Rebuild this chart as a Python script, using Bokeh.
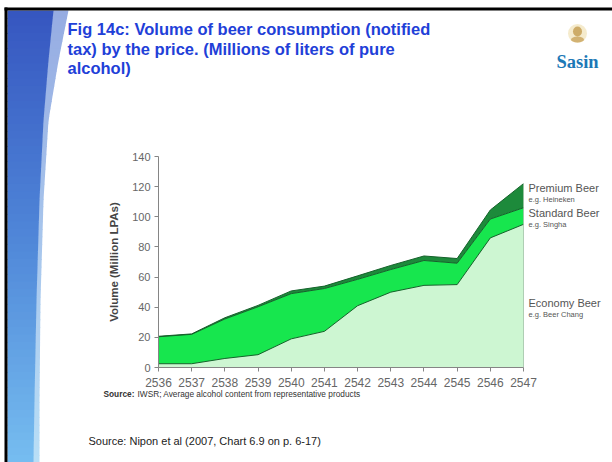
import numpy as np
from bokeh.plotting import figure
from bokeh.models import Range1d, FixedTicker, ColumnDataSource, GridBox
from bokeh.core.properties import value
from bokeh.embed import file_html
from bokeh.resources import INLINE

# Beer consumption by price segment (million litres of pure alcohol)
years = [2536, 2537, 2538, 2539, 2540, 2541, 2542, 2543, 2544, 2545, 2546, 2547]
economy = [2.5, 2.5, 6.0, 8.5, 19.0, 24.0, 41.0, 50.0, 54.5, 55.0, 86.0, 95.0]
standard = [17.9, 19.5, 26.2, 31.8, 30.0, 28.4, 17.5, 15.0, 16.5, 14.2, 12.5, 11.0]
premium = [0.3, 0.3, 0.8, 0.9, 1.8, 1.6, 2.3, 2.7, 3.0, 3.1, 6.0, 16.0]
y_ticks = [0, 20, 40, 60, 80, 100, 120, 140]

segment_names = ["Premium Beer", "Standard Beer", "Economy Beer"]
segment_examples = ["e.g. Heineken", "e.g. Singha", "e.g. Beer Chang"]

title_lines = [
    "Fig 14c: Volume of beer consumption (notified",
    "tax) by the price. (Millions of liters of pure",
    "alcohol)",
]
chart_source = "IWSR; Average alcohol content from representative products"
slide_source = "Source: Nipon et al (2007, Chart 6.9 on p. 6-17)"

FONT = "Liberation Sans"
W, H = 612, 462

# ---------------------------------------------------------------- slide layer
bg = figure(width=W, height=H, x_range=Range1d(0, W), y_range=Range1d(H, 0),
            output_backend="svg", toolbar_location=None,
            x_axis_location=None, y_axis_location=None,
            min_border_left=0, min_border_right=0, min_border_top=0, min_border_bottom=0)
bg.frame_align = False
bg.outline_line_color = None
bg.grid.visible = False
bg.background_fill_color = "white"
bg.border_fill_color = "white"


def mix(c1, c2, t):
    a = [int(c1[i:i + 2], 16) for i in (1, 3, 5)]
    b = [int(c2[i:i + 2], 16) for i in (1, 3, 5)]
    return "#" + "".join(f"{int(round(a[k] + (b[k] - a[k]) * t)):02x}" for k in range(3))


# blue band down the left edge, shaded top to bottom
edge_y = [10, 60, 120, 200, 300, 400, 462]
dark_x = [53, 48, 43, 39, 36, 34, 33]
light_x = [68, 58, 48, 43, 40, 39, 39]
n = 60
ys = np.linspace(10, H, n + 1)
band_xs, band_ys, band_c = [], [], []
for i in range(n):
    y0, y1 = ys[i], min(ys[i + 1] + 0.8, H)
    t = (0.5 * (y0 + y1) - 10) / (H - 10)
    d0, d1 = np.interp([y0, y1], edge_y, dark_x)
    l0, l1 = np.interp([y0, y1], edge_y, light_x)
    band_xs.append([d0 - 0.5, l0, l1, d1 - 0.5])
    band_ys.append([y0, y0, y1, y1])
    band_c.append(mix("#96ace2", "#b8def6", t))
    band_xs.append([7, d0, d1, 7])
    band_ys.append([y0, y0, y1, y1])
    band_c.append(mix("#3656c0", "#4f86d8", t * 2) if t < 0.5
                  else mix("#4f86d8", "#76bdf0", t * 2 - 1))
bg.patches(xs=band_xs, ys=band_ys, fill_color=band_c, line_color=None)

# black frame lines at the top and left
bg.quad(left=[4, 4], right=[W, 7], top=[7, 7], bottom=[10, H],
        fill_color="black", line_color=None)

# title
bg.text(x=[67] * 3, y=[28.5 + 19.5 * i for i in range(3)], text=title_lines,
        text_font=value(FONT), text_font_style="bold", text_font_size="16.5px",
        text_color="#1f40d8", text_baseline="alphabetic")

# logo
bg.ellipse(x=[577], y=[33], width=[19], height=[19], fill_color="#f2e6c0",
           fill_alpha=0.8, line_color=None)
bg.ellipse(x=[577], y=[31], width=[9], height=[10], fill_color="#c9a45c",
           fill_alpha=0.9, line_color=None)
bg.ellipse(x=[577], y=[39], width=[13], height=[6], fill_color="#c9a45c",
           fill_alpha=0.8, line_color=None)
bg.text(x=[577], y=[61], text=["Sasin"], text_font=value("Liberation Serif"),
        text_font_style="bold", text_font_size="18.5px", text_color="#1c78b6",
        text_align="center", text_baseline="alphabetic")

# segment labels to the right of the chart
name_y = [187, 212, 302]
bg.text(x=[528] * 3, y=name_y, text=segment_names, text_font=value(FONT),
        text_font_size="11px", text_color="#555555", text_baseline="middle")
bg.text(x=[528] * 3, y=[v + 11.5 for v in name_y], text=segment_examples,
        text_font=value(FONT), text_font_size="7.5px", text_color="#555555",
        text_baseline="middle")

# sources
bg.text(x=[103], y=[393], text=["Source:"], text_font=value(FONT), text_font_style="bold",
        text_font_size="8.3px", text_color="#333333", text_baseline="middle")
bg.text(x=[137], y=[393], text=[chart_source], text_font=value(FONT),
        text_font_size="8.3px", text_color="#333333", text_baseline="middle")
bg.text(x=[88], y=[440], text=[slide_source], text_font=value(FONT),
        text_font_size="11px", text_color="#222222", text_baseline="middle")

# ---------------------------------------------------------------- chart layer
econ_top = np.array(economy)
std_top = econ_top + np.array(standard)
total = std_top + np.array(premium)
src = ColumnDataSource(dict(x=years, zero=[0] * len(years), econ=econ_top,
                            std=std_top, total=total))

p = figure(width=W, height=H, x_range=Range1d(2536, 2547), y_range=Range1d(0, 140),
           output_backend="svg", toolbar_location=None,
           min_border_left=158, min_border_right=89, min_border_top=156, min_border_bottom=95)
p.frame_align = False
p.outline_line_color = None
p.grid.visible = False
p.background_fill_color = None
p.border_fill_color = None

# stacked areas
p.varea(x="x", y1="zero", y2="econ", source=src, fill_color="#cdf6d2")
p.varea(x="x", y1="econ", y2="std", source=src, fill_color="#17e64e")
p.varea(x="x", y1="std", y2="total", source=src, fill_color="#1d8a3b")
for col in ("econ", "std", "total"):
    p.line(x="x", y=col, source=src, line_color="#14622a", line_width=1)
p.segment(x0=[years[-1]], y0=[0], x1=[years[-1]], y1=[total[-1]],
          line_color="#6d9f75", line_width=1)

# axes
for ax in (p.xaxis[0], p.yaxis[0]):
    ax.axis_line_color = "#858585"
    ax.major_tick_line_color = "#858585"
    ax.minor_tick_line_color = None
    ax.major_tick_in = 0
    ax.major_tick_out = 4
    ax.major_label_text_font = FONT
    ax.major_label_text_color = "#666666"
    ax.major_label_standoff = 4
p.xaxis.major_label_text_font_size = "12px"
p.yaxis.major_label_text_font_size = "11px"
p.xaxis.major_label_standoff = 6
p.xaxis.ticker = FixedTicker(ticks=years)
p.yaxis.ticker = FixedTicker(ticks=y_ticks)
p.yaxis.axis_label = "Volume (Million LPAs)"
p.yaxis.axis_label_text_font = FONT
p.yaxis.axis_label_text_font_style = "bold"
p.yaxis.axis_label_text_font_size = "11.5px"
p.yaxis.axis_label_text_color = "#444444"
p.yaxis.axis_label_standoff = 9

# both layers share one grid cell, the chart drawn over the slide
page = GridBox(children=[(bg, 0, 0), (p, 0, 0)])

open("out.html", "w").write(file_html(page, INLINE))
